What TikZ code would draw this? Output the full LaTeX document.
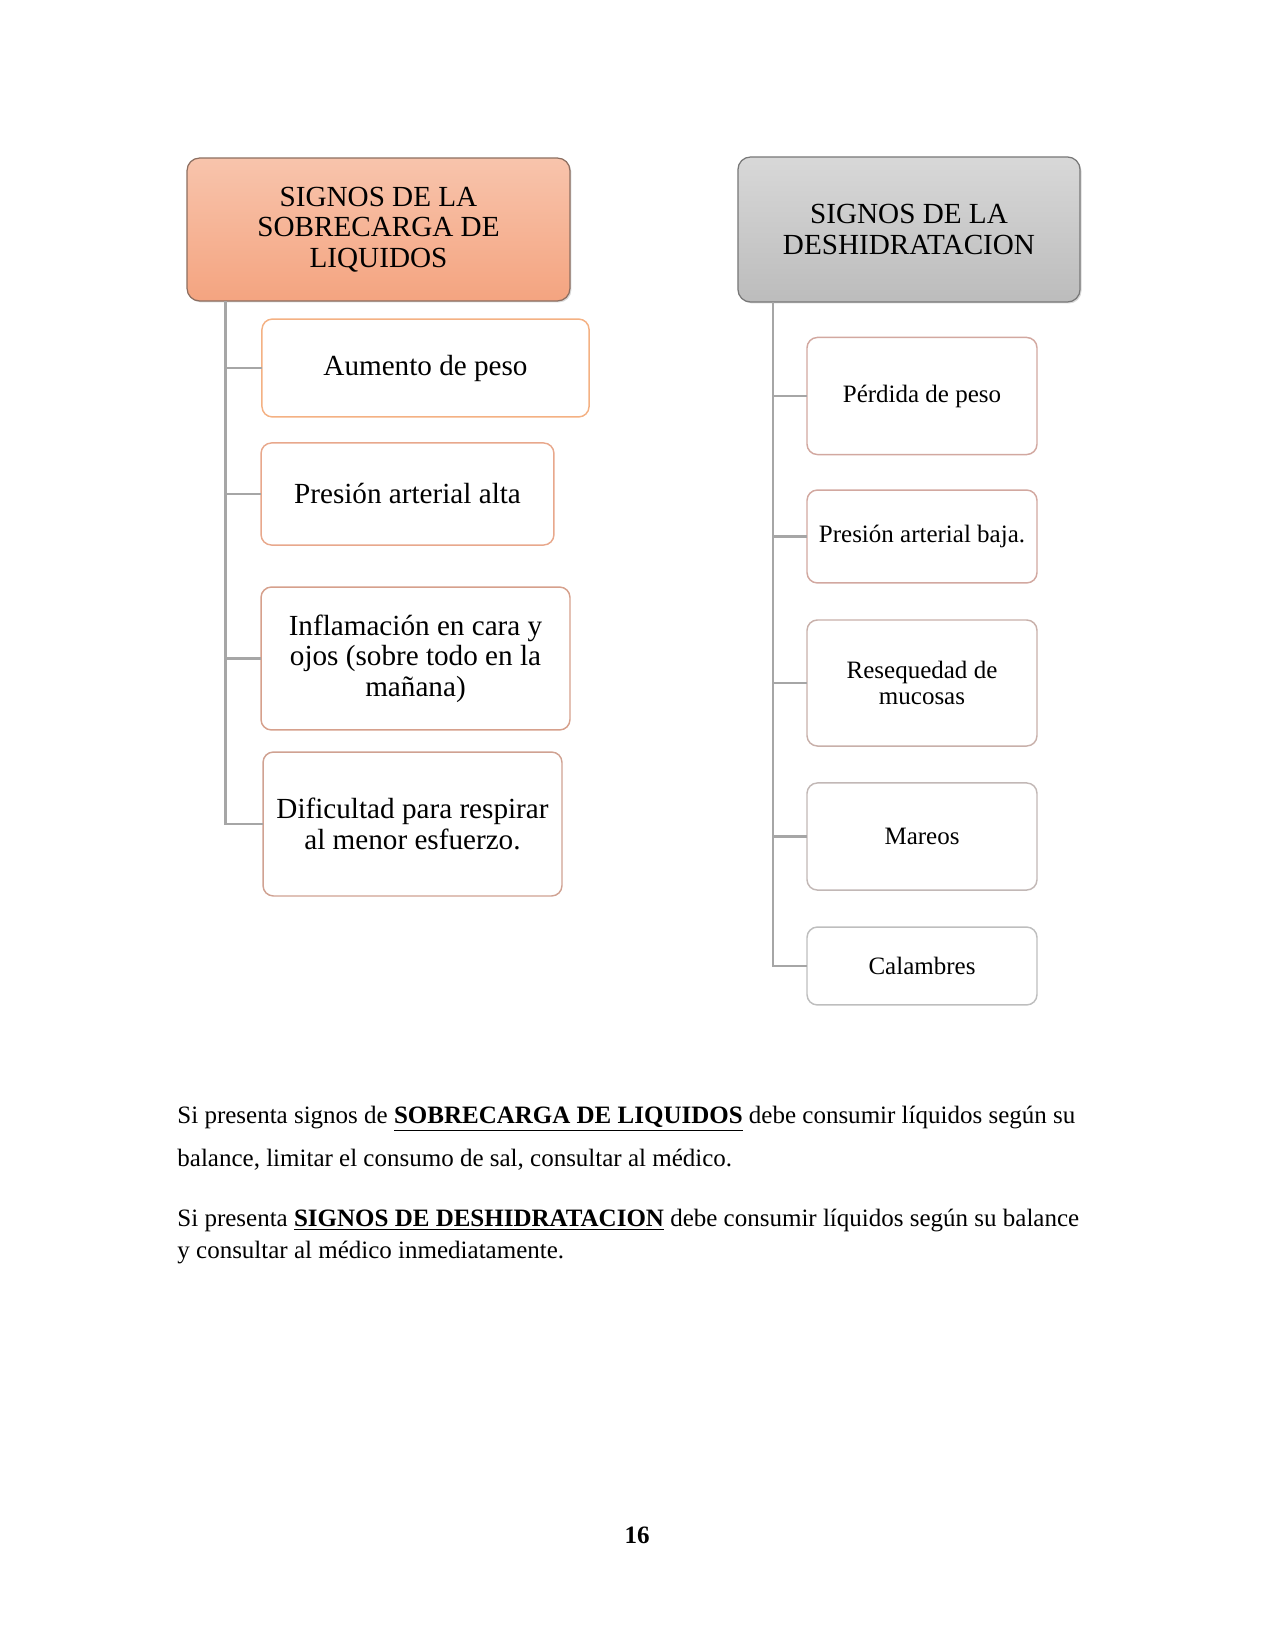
\documentclass[tikz,border=0pt]{standalone}
\usepackage{fontspec}
\setmainfont{Liberation Serif}
\usepackage{xcolor}
\usetikzlibrary{positioning,calc,shadows}

\definecolor{salmontop}{RGB}{248,196,172}
\definecolor{salmonbot}{RGB}{244,164,128}
\definecolor{salmonedge}{RGB}{140,110,96}
\definecolor{greytop}{RGB}{216,216,216}
\definecolor{greybot}{RGB}{188,188,188}
\definecolor{greyedge}{RGB}{120,120,120}
\definecolor{linegrey}{RGB}{166,166,166}
\definecolor{edgeorange}{RGB}{244,177,131}
\definecolor{edgepeach}{RGB}{232,168,140}
\definecolor{edgerose}{RGB}{214,160,140}
\definecolor{edgebrown}{RGB}{208,162,146}
\definecolor{edgemauve}{RGB}{210,168,160}
\definecolor{edgemist}{RGB}{200,176,170}
\definecolor{edgeash}{RGB}{194,184,182}
\definecolor{edgegrey}{RGB}{190,190,190}

\begin{document}
\begin{tikzpicture}[x=0.48pt, y=-0.48pt]
    \tikzstyle{header} = [rectangle, rounded corners=6pt, inner sep=2pt, outer sep=0pt, align=center, line width=0.6pt, font=\fontsize{14}{14.6}\selectfont, drop shadow={shadow xshift=0.7pt, shadow yshift=-0.7pt, opacity=0.3}]
    \tikzstyle{bigitem} = [rectangle, draw=edgeorange, fill=white, rounded corners=5pt, inner sep=2pt, outer sep=0pt, align=center, line width=0.7pt, font=\fontsize{14}{14.6}\selectfont]
    \tikzstyle{smallitem} = [bigitem, minimum width=110.4pt, font=\fontsize{12}{12.6}\selectfont]
    \tikzstyle{branch} = [draw=linegrey, line width=1.4pt]
    \tikzstyle{para} = [anchor=base west, inner sep=0pt, font=\fontsize{12}{14}\selectfont]

    \useasboundingbox (0,0) rectangle (1275,1650);

    % Headers
    \node [header, draw=salmonedge, top color=salmontop, bottom color=salmonbot, minimum width=183.8pt, minimum height=68.6pt] (lhead) at (378.5,229.5) {SIGNOS DE LA\\SOBRECARGA DE\\LIQUIDOS};
    \node [header, draw=greyedge, top color=greytop, bottom color=greybot, minimum width=164.2pt, minimum height=69.6pt] (rhead) at (909,229.5) {SIGNOS DE LA\\DESHIDRATACION};

    % Left items
    \node [bigitem, minimum width=157pt, minimum height=47pt] (aumento) at (425.5,368) {Aumento de peso};
    \node [bigitem, draw=edgepeach, minimum width=140.6pt, minimum height=49pt] (presalta) at (407.5,494) {Presión arterial alta};
    \node [bigitem, draw=edgerose, minimum width=148.3pt, minimum height=68.6pt] (inflam) at (415.5,658.5) {Inflamación en cara y\\ojos (sobre todo en la\\mañana)};
    \node [bigitem, draw=edgebrown, minimum width=143.5pt, minimum height=69.1pt] (dificultad) at (412.5,824) {Dificultad para respirar\\al menor esfuerzo.};

    % Right items
    \node [smallitem, draw=edgemauve, minimum height=56.2pt] (perdida) at (922,396) {Pérdida de peso};
    \node [smallitem, draw=edgemauve, minimum height=44.6pt] (presbaja) at (922,536.5) {Presión arterial baja.};
    \node [smallitem, draw=edgemist, minimum height=60.5pt] (reseq) at (922,683) {Resequedad de\\mucosas};
    \node [smallitem, draw=edgeash, minimum height=51.4pt] (mareos) at (922,836.5) {Mareos};
    \node [smallitem, draw=edgegrey, minimum height=37.4pt] (calambres) at (922,966) {Calambres};

    % Edges
    \coordinate (lroot) at ($(lhead.south west)+(38,0)$);
    \coordinate (rroot) at ($(rhead.south west)+(35,0)$);
    \foreach \kid in {aumento,presalta,inflam,dificultad}
        \draw [branch] (lroot) |- (\kid.west);
    \foreach \kid in {perdida,presbaja,reseq,mareos,calambres}
        \draw [branch] (rroot) |- (\kid.west);

    % Text below
    \node [para] (txta) at (177,1123) {Si presenta signos de \underline{\textbf{SOBRECARGA DE LIQUIDOS}} debe consumir líquidos según su};
    \node [para] (txtb) at (177,1166) {balance, limitar el consumo de sal, consultar al médico.};
    \node [para] (txtc) at (177,1226) {Si presenta \underline{\textbf{SIGNOS DE DESHIDRATACION}} debe consumir líquidos según su balance};
    \node [para] (txtd) at (177,1258) {y consultar al médico inmediatamente.};

    \node [font=\fontsize{12}{14}\selectfont\bfseries] (pagenum) at (637,1535) {16};
\end{tikzpicture}
\end{document}
